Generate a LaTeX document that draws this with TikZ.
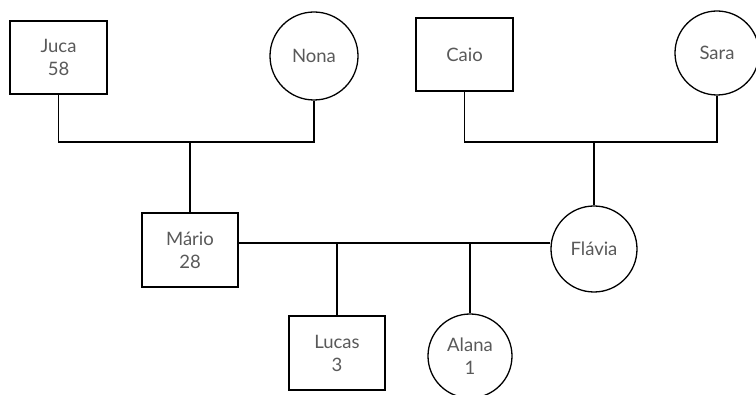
\documentclass[tikz,border=0pt]{standalone}
\usepackage{fontspec}
\setmainfont{Lato}
\begin{document}
\begin{tikzpicture}[x=1pt,y=1pt,
  txt/.style={text=black!65, font=\fontsize{18.5}{23}\selectfont, align=center, inner sep=0pt},
  male/.style={txt, draw=black, line width=1.3pt, rectangle, minimum width=97pt, minimum height=73pt},
  female/.style={txt, draw=black, line width=1.3pt, circle},
  link/.style={draw=black, line width=1.3pt}]
\useasboundingbox (0,0) rectangle (756,-395);
\node[male] (juca) at (58.5,-57.5) {Juca\\58};
\node[female, minimum size=88pt] (nona) at (314,-56) {Nona};
\node[male] (caio) at (464.5,-54.5) {Caio};
\node[female, minimum size=84pt] (sara) at (717,-53) {Sara};
\node[male, minimum width=96pt, minimum height=74pt] (mario) at (190,-250) {Mário\\28};
\node[female, minimum size=86pt] (flavia) at (594,-249) {Flávia};
\node[male, minimum width=96pt, minimum height=74pt] (lucas) at (337,-353) {Lucas\\3};
\node[female, minimum size=84pt] (alana) at (470,-356) {Alana\\1};
\coordinate (m1) at (190,-142);
\coordinate (m2) at (594,-142);
\coordinate (m3) at (337,-243);
\coordinate (m4) at (470,-243);
\draw[link] (juca.south) |- (m1) -| (nona.south);
\draw[link] (m1) -- (mario.north);
\draw[link] (caio.south) |- (m2) -| (sara.south);
\draw[link] (m2) -- (flavia.north);
\draw[link] (mario.east |- m3) -- (m3 -| flavia.west);
\draw[link] (m3) -- (lucas.north);
\draw[link] (m4) -- (alana.north);
\end{tikzpicture}
\end{document}
